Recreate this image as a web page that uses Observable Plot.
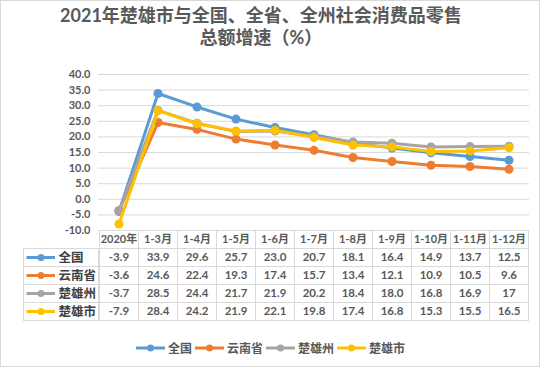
<!DOCTYPE html>
<html>
<head>
<meta charset="utf-8">
<script src="https://cdn.jsdelivr.net/npm/d3@7"></script>
<script src="https://cdn.jsdelivr.net/npm/@observablehq/plot@0.6"></script>
<style>
  html, body { margin: 0; padding: 0; background: #fff; }
  body { width: 544px; height: 368px; position: relative; overflow: hidden;
         font-family: Lato, "Noto Sans CJK SC", sans-serif; }
  #frame { position: absolute; left: 0; top: 0; width: 540px; height: 367px;
           box-sizing: border-box; border: 1px solid #d9d9d9; }
  #title { position: absolute; left: 0; top: 4px; width: 522px; text-align: center;
           font-size: 18px; line-height: 22px; font-weight: bold; color: #595959;
           font-family: Lato, "Noto Sans CJK SC", sans-serif; }
  .abs { position: absolute; }
  svg { overflow: visible; }
  #legend { position: absolute; left: 0; top: 339px; width: 544px; display: flex;
            justify-content: center; align-items: center; font-size: 12px;
            font-weight: bold; color: #595959; }
  #legend .item { display: flex; align-items: center; margin-right: 3px; }
  #legend svg { margin-right: 3px; }
</style>
</head>
<body>
<div id="frame"></div>
<div id="title">2021年楚雄市与全国、全省、全州社会消费品零售<br>总额增速（%）</div>
<div id="chart" class="abs" style="left:0;top:50px"></div>
<div id="labels" class="abs" style="left:23px;top:230px"></div>
<div id="table" class="abs" style="left:0;top:230px"></div>
<div id="legend"></div>
<script>
// ---- data ----
const categories = ["2020年", "1-3月", "1-4月", "1-5月", "1-6月", "1-7月", "1-8月", "1-9月", "1-10月", "1-11月", "1-12月"];
const seriesNames = ["全国", "云南省", "楚雄州", "楚雄市"];
const quanguo      = ["-3.9", "33.9", "29.6", "25.7", "23.0", "20.7", "18.1", "16.4", "14.9", "13.7", "12.5"];
const yunnansheng  = ["-3.6", "24.6", "22.4", "19.3", "17.4", "15.7", "13.4", "12.1", "10.9", "10.5", "9.6"];
const chuxiongzhou = ["-3.7", "28.5", "24.4", "21.7", "21.9", "20.2", "18.4", "18.0", "16.8", "16.9", "17"];
const chuxiongshi  = ["-7.9", "28.4", "24.2", "21.9", "22.1", "19.8", "17.4", "16.8", "15.3", "15.5", "16.5"];
const seriesColors = ["#5B9BD5", "#ED7D31", "#A5A5A5", "#FFC000"];
const yTicks = [-10, -5, 0, 5, 10, 15, 20, 25, 30, 35, 40];

const seriesValues = [quanguo, yunnansheng, chuxiongzhou, chuxiongshi];
const rows = seriesNames.flatMap((s, i) =>
  categories.map((c, j) => ({series: s, category: c, value: +seriesValues[i][j], label: seriesValues[i][j]})));

const font = 'Lato, "Noto Sans CJK SC", sans-serif';
const grid = "#d9d9d9";
const colorScale = {domain: seriesNames, range: seriesColors};

// ---- line chart ----
const chart = Plot.plot({
  width: 544, height: 180,
  marginLeft: 98, marginRight: 15, marginTop: 24, marginBottom: 0,
  style: {fontFamily: font, fontSize: "11px", fontWeight: "bold", color: "#595959", background: "transparent", overflow: "visible"},
  x: {type: "band", domain: categories, padding: 0, axis: null},
  y: {domain: [-10, 40], axis: null},
  color: colorScale,
  marks: [
    Plot.gridY(yTicks, {stroke: grid, strokeOpacity: 1, strokeWidth: 1}),
    Plot.axisY(yTicks, {tickSize: 0, tickPadding: 8, tickFormat: d => d.toFixed(1), label: null, fontSize: 11, fontWeight: "bold"}),
    ...seriesNames.flatMap(s => [
      Plot.line(rows.filter(r => r.series === s), {x: "category", y: "value", stroke: "series", strokeWidth: 3, strokeLinejoin: "round"}),
      Plot.dot(rows.filter(r => r.series === s), {x: "category", y: "value", fill: "series", r: 4.5})
    ])
  ]
});
document.getElementById("chart").append(chart);

// ---- data table: value columns ----
const rowDomain = ["header", ...seriesNames];
const table = Plot.plot({
  width: 544, height: 90,
  marginLeft: 98, marginRight: 15, marginTop: 0, marginBottom: 0,
  style: {fontFamily: font, fontSize: "11px", fontWeight: "bold", color: "#595959", background: "transparent", overflow: "visible"},
  x: {type: "band", domain: categories, padding: 0, axis: null},
  y: {type: "band", domain: rowDomain, padding: 0, axis: null},
  marks: [
    Plot.cell(categories, {x: d => d, y: () => "header", fill: "white", stroke: grid, shapeRendering: "crispEdges"}),
    Plot.cell(rows, {x: "category", y: "series", fill: "white", stroke: grid, shapeRendering: "crispEdges"}),
    Plot.text(categories, {x: d => d, y: () => "header", text: d => d, fill: "#595959", fontSize: 11, fontWeight: "bold"}),
    Plot.text(rows, {x: "category", y: "series", text: "label", fill: "#595959", fontSize: 11.5, fontWeight: "bold"})
  ]
});
document.getElementById("table").append(table);

// ---- data table: series label column with legend keys ----
const labels = Plot.plot({
  width: 75, height: 90,
  marginLeft: 0, marginRight: 0, marginTop: 0, marginBottom: 0,
  style: {fontFamily: font, background: "transparent", overflow: "visible"},
  x: {type: "band", domain: ["label"], padding: 0, axis: null},
  y: {type: "band", domain: rowDomain, padding: 0, axis: null},
  color: colorScale,
  marks: [
    Plot.cell(seriesNames, {x: () => "label", y: d => d, fill: "white", stroke: grid, shapeRendering: "crispEdges"}),
    Plot.ruleY(seriesNames, {y: d => d, stroke: d => d, strokeWidth: 3, insetLeft: 3.5, insetRight: 43}),
    Plot.dot(seriesNames, {y: d => d, fill: d => d, r: 3.5, frameAnchor: "left", dx: 17.5}),
    Plot.text(seriesNames, {y: d => d, text: d => d, frameAnchor: "left", dx: 35, textAnchor: "start", fill: "#404040", fontSize: 12.5, fontWeight: "bold"})
  ]
});
document.getElementById("labels").append(labels);

// ---- bottom legend ----
const legend = document.getElementById("legend");
seriesNames.forEach((s, i) => {
  const item = document.createElement("div");
  item.className = "item";
  item.innerHTML = `<svg width="29" height="10"><line x1="0" y1="5" x2="29" y2="5" stroke="${seriesColors[i]}" stroke-width="3"/><circle cx="14.5" cy="5" r="3.5" fill="${seriesColors[i]}"/></svg><span>${s}</span>`;
  legend.append(item);
});
</script>
</body>
</html>
